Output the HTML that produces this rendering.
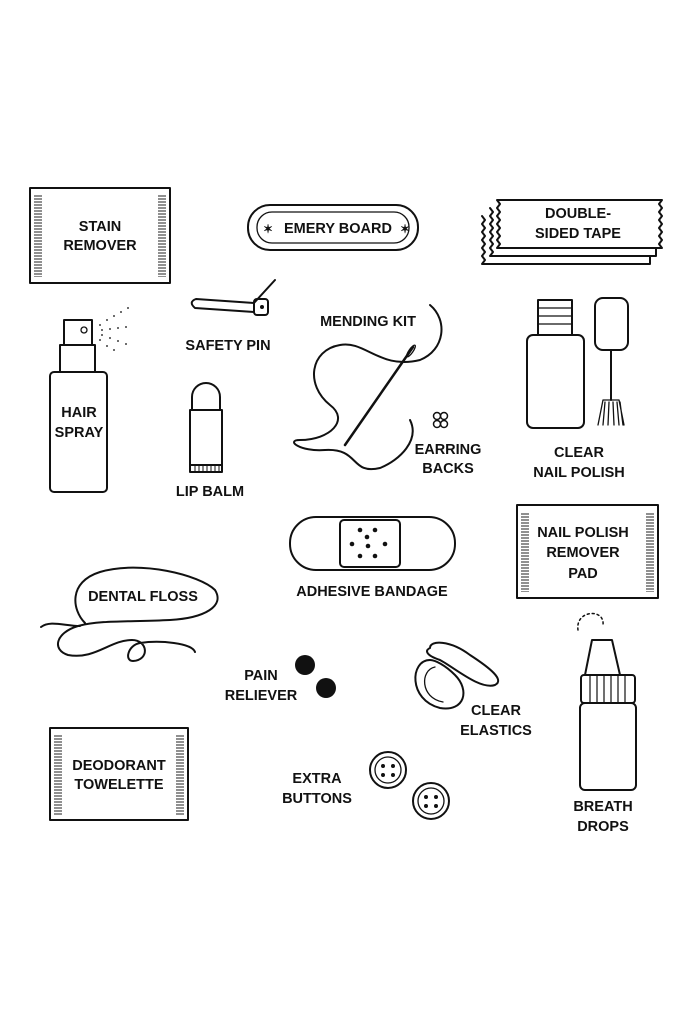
<!DOCTYPE html>
<html><head><meta charset="utf-8"><style>
html,body{margin:0;padding:0;background:#fff;}
svg{display:block}
text{font-family:"Liberation Sans",sans-serif;font-weight:bold;font-size:14.5px;fill:#111;text-anchor:middle}
</style></head><body>
<svg width="700" height="1024" viewBox="0 0 700 1024" xmlns="http://www.w3.org/2000/svg">
<defs>
<pattern id="h" width="8" height="3" patternUnits="userSpaceOnUse"><line x1="0" y1="1" x2="8" y2="1" stroke="#222" stroke-width="1"/></pattern>
</defs>
<g fill="none" stroke="#111" stroke-width="2" stroke-linecap="round" stroke-linejoin="round">
<rect x="30" y="188" width="140" height="95"/>
<rect x="248" y="205" width="170" height="45" rx="22"/>
<rect x="257" y="212" width="152" height="31" rx="15" stroke-width="1.3"/>
<!-- tape -->
<path d="M482 216 l3 4 -3 4 3 4 -3 4 3 4 -3 4 3 4 -3 4 3 4 -3 4 3 4 -3 4 H650 V256"/>
<path d="M490 208 l3 4 -3 4 3 4 -3 4 3 4 -3 4 3 4 -3 4 3 4 -3 4 3 4 -3 4 H656 V248"/>
<path d="M497 200 H662 l-3 4 3 4 -3 4 3 4 -3 4 3 4 -3 4 3 4 -3 4 3 4 -3 4 3 4 H497 l3 -4 -3 -4 3 -4 -3 -4 3 -4 -3 -4 3 -4 -3 -4 3 -4 -3 -4 3 -4 z" fill="#fff"/>
<path d="M254 303 L196 299 Q188 302 195 308 L254 312"/>
<path d="M254 303 L275 280"/>
<rect x="254" y="299" width="14" height="16" rx="3"/>
<rect x="64" y="320" width="28" height="25"/>
<rect x="60" y="345" width="35" height="27"/>
<rect x="50" y="372" width="57" height="120" rx="4"/>
<circle cx="84" cy="330" r="3" stroke-width="1.3"/>
<path d="M192 410 V397 a14 14 0 0 1 28 0 V410"/>
<rect x="190" y="410" width="32" height="55"/>
<rect x="190" y="465" width="32" height="7"/>
<path d="M195 465v7M199 465v7M203 465v7M207 465v7M211 465v7M215 465v7M219 465v7" stroke-width="1"/>
<path d="M430 305 C448 320 445 350 420 360 C380 370 365 340 340 345 C310 350 305 385 330 405 C350 420 330 440 300 440 C285 440 300 452 325 450 C360 448 350 475 380 468 C400 460 420 440 410 420"/>
<path d="M345 445 L413 347" stroke-width="2.5"/>
<ellipse cx="411" cy="351" rx="2" ry="7" transform="rotate(35 411 351)" stroke-width="1.3"/>
<circle cx="437" cy="416" r="3.5" stroke-width="1.5"/><circle cx="444" cy="416" r="3.5" stroke-width="1.5"/>
<circle cx="437" cy="424" r="3.5" stroke-width="1.5"/><circle cx="444" cy="424" r="3.5" stroke-width="1.5"/>
<path d="M538 300 h34 v35 h-34 z"/>
<path d="M538 308h34M538 316h34M538 324h34" stroke-width="1.2"/>
<rect x="527" y="335" width="57" height="93" rx="6"/>
<rect x="595" y="298" width="33" height="52" rx="8"/>
<path d="M611 350 V400"/>
<path d="M603 400 h16 l5 25 M603 400 l-5 25 M605 402 l-2 23 M609 402 l-1 23 M613 402 l1 23 M617 402 l2 23 M620 402 l3 23" stroke-width="1.3"/>
<rect x="290" y="517" width="165" height="53" rx="26"/>
<rect x="340" y="520" width="60" height="47" rx="4"/>
<rect x="517" y="505" width="141" height="93"/>
<!-- dental floss -->
<path d="M85 623 C72 610 68 582 100 572 C140 560 200 575 215 590 C225 606 205 618 170 620 C130 622 100 620 78 626 C55 633 52 650 68 655 C95 660 110 640 132 640 C148 640 150 660 133 661 C124 661 128 645 140 643 C160 640 192 643 195 652"/>
<path d="M80 626 C65 626 50 620 41 627"/>
<path d="M430 660 C410 660 408 700 440 708 C465 712 470 690 455 675 C445 665 435 660 430 660 Z"/>
<path d="M435 667 C420 670 420 698 443 702" stroke-width="1.3"/>
<path d="M430 648 C430 640 450 640 470 655 C490 668 505 680 495 685 C480 690 455 668 440 660 C425 655 425 650 430 648 Z"/>
<path d="M592 640 L612 640 L620 675 H585 Z"/>
<rect x="581" y="675" width="54" height="28" rx="3"/>
<path d="M590 675v28M597 675v28M604 675v28M611 675v28M618 675v28M625 675v28" stroke-width="1.2"/>
<rect x="580" y="703" width="56" height="87" rx="5"/>
<path d="M578 630 C575 610 605 608 603 625" stroke-dasharray="2 3" stroke-width="1.5"/>
<rect x="50" y="728" width="138" height="92"/>
<circle cx="388" cy="770" r="18"/><circle cx="388" cy="770" r="13" stroke-width="1.3"/>
<circle cx="431" cy="801" r="18"/><circle cx="431" cy="801" r="13" stroke-width="1.3"/>
</g>
<g fill="url(#h)">
<rect x="34" y="195" width="8" height="82"/><rect x="158" y="195" width="8" height="82"/>
<rect x="521" y="512" width="8" height="80"/><rect x="646" y="512" width="8" height="80"/>
<rect x="54" y="735" width="8" height="80"/><rect x="176" y="735" width="8" height="80"/>
</g>
<g fill="#111">
<circle cx="305" cy="665" r="10"/><circle cx="326" cy="688" r="10"/>
<circle cx="360" cy="530" r="2.3"/><circle cx="375" cy="530" r="2.3"/><circle cx="367" cy="537" r="2.3"/>
<circle cx="352" cy="544" r="2.3"/><circle cx="368" cy="546" r="2.3"/><circle cx="385" cy="544" r="2.3"/>
<circle cx="360" cy="556" r="2.3"/><circle cx="375" cy="556" r="2.3"/>
<circle cx="383" cy="766" r="2"/><circle cx="393" cy="766" r="2"/><circle cx="383" cy="775" r="2"/><circle cx="393" cy="775" r="2"/>
<circle cx="426" cy="797" r="2"/><circle cx="436" cy="797" r="2"/><circle cx="426" cy="806" r="2"/><circle cx="436" cy="806" r="2"/>
<circle cx="262" cy="307" r="2"/>
<g opacity="0.8">
<circle cx="100" cy="325" r="1"/><circle cx="107" cy="320" r="1"/><circle cx="114" cy="316" r="1"/><circle cx="121" cy="312" r="1"/><circle cx="128" cy="308" r="1"/>
<circle cx="102" cy="330" r="1"/><circle cx="110" cy="329" r="1"/><circle cx="118" cy="328" r="1"/><circle cx="126" cy="327" r="1"/>
<circle cx="102" cy="335" r="1"/><circle cx="110" cy="338" r="1"/><circle cx="118" cy="341" r="1"/><circle cx="126" cy="344" r="1"/>
<circle cx="100" cy="340" r="1"/><circle cx="107" cy="346" r="1"/><circle cx="114" cy="350" r="1"/>
</g>
</g>
<text x="268" y="233" style="font-size:12px">✶</text><text x="405" y="233" style="font-size:12px">✶</text>
<text x="100" y="231">STAIN</text><text x="100" y="250">REMOVER</text>
<text x="338" y="233">EMERY BOARD</text>
<text x="578" y="218">DOUBLE-</text><text x="578" y="238">SIDED TAPE</text>
<text x="228" y="350">SAFETY PIN</text>
<text x="368" y="326">MENDING KIT</text>
<text x="79" y="417">HAIR</text><text x="79" y="437">SPRAY</text>
<text x="210" y="496">LIP BALM</text>
<text x="448" y="454">EARRING</text><text x="448" y="473">BACKS</text>
<text x="579" y="457">CLEAR</text><text x="579" y="477">NAIL POLISH</text>
<text x="583" y="537">NAIL POLISH</text><text x="583" y="557">REMOVER</text><text x="583" y="578">PAD</text>
<text x="372" y="596">ADHESIVE BANDAGE</text>
<text x="143" y="601">DENTAL FLOSS</text>
<text x="261" y="680">PAIN</text><text x="261" y="700">RELIEVER</text>
<text x="496" y="715">CLEAR</text><text x="496" y="735">ELASTICS</text>
<text x="119" y="770">DEODORANT</text><text x="119" y="789">TOWELETTE</text>
<text x="317" y="783">EXTRA</text><text x="317" y="803">BUTTONS</text>
<text x="603" y="811">BREATH</text><text x="603" y="831">DROPS</text>
</svg>
</body></html>
